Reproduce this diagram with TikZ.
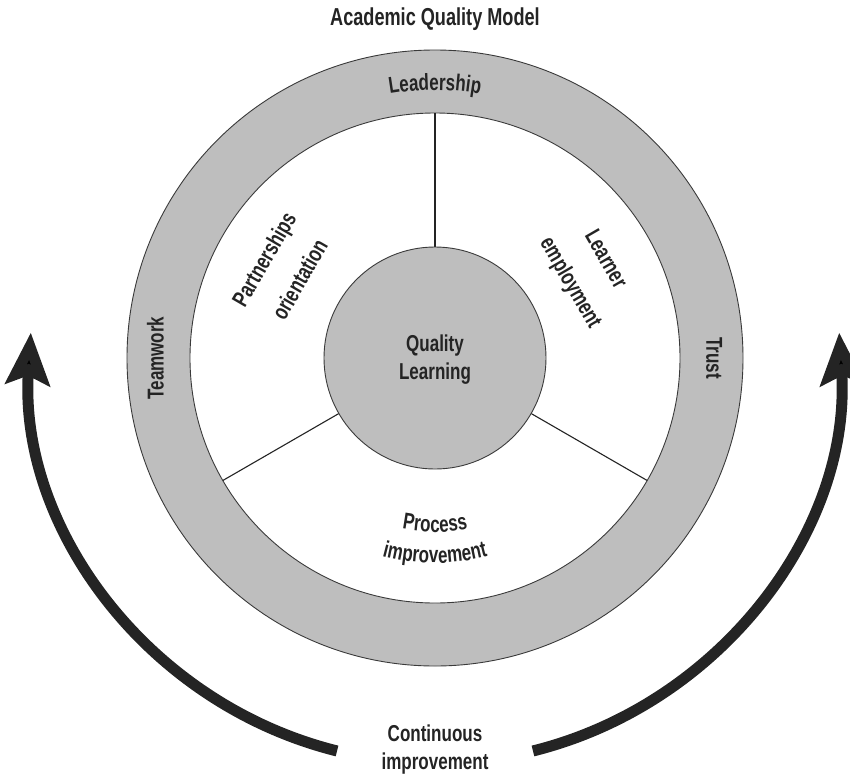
\documentclass[tikz,border=0pt]{standalone}
\usepackage{fontspec}
\setmainfont{Liberation Sans}[FakeStretch=0.74]
\usetikzlibrary{arrows.meta,decorations.text}

\definecolor{ringgray}{HTML}{BEBEBE}
\definecolor{ink}{HTML}{242424}
\newcommand{\lblfont}{\fontsize{23}{28}\selectfont\bfseries}

\tikzset{
  outline/.style={draw=ink!90, line width=0.9pt},
  divider/.style={draw=ink, line width=1.1pt},
  label/.style={font=\lblfont, text=ink, align=center},
  turned/.style={label, anchor=mid, inner sep=0pt, rotate=#1},
  cycle arrow/.style={draw=ink, line width=11pt,
    -{Stealth[length=52pt, width=44pt, inset=9pt]}},
  curved/.style={decorate, decoration={text along path,
    text align=center, text color=ink, text={|\lblfont|#1}}}
}

\begin{document}
\begin{tikzpicture}[x=1pt,y=1pt]
  % page frame: centre of the rings sits at the origin
  \useasboundingbox (-435,-419) rectangle (415,358);

  % outer ring and white sector band
  \fill[ringgray, outline] (0,0) circle[radius=308pt];
  \fill[white, outline] (0,0) circle[radius=245pt];

  % sector dividers from the hub to the ring
  \coordinate (hubA) at (90:111pt);   \coordinate (rimA) at (90:245pt);
  \coordinate (hubB) at (210:111pt);  \coordinate (rimB) at (210:245pt);
  \coordinate (hubC) at (330:111pt);  \coordinate (rimC) at (330:245pt);
  \draw[divider] (hubA) -- (rimA);
  \draw[divider] (hubB) -- (rimB);
  \draw[divider] (hubC) -- (rimC);

  % central hub
  \node[circle, minimum size=222pt, fill=ringgray, outline,
        inner sep=0pt] (hub) at (0,0) {};
  \node[label] (quality) at (0,-2) {Quality\\Learning};

  % title
  \node[label, font=\fontsize{24.5}{29}\selectfont\bfseries] (title) at (0,339) {Academic Quality Model};

  % ring labels
  \path[curved=Leadership] (110:268pt) arc[start angle=110, end angle=70, radius=268pt];
  \node[turned=90] (teamwork) at (180:274pt) {Teamwork};
  \node[turned=-90] (trust) at (0:274pt) {Trust};

  % sector labels
  \node[turned=60] (partner) at (150:192pt) {Partnerships};
  \node[turned=60] (orient) at (150:151pt) {orientation};
  \node[turned=-60] (learner) at (30:193pt) {Learner};
  \node[turned=-60] (employ) at (29:151pt) {employment};
  \path[curved=Process] (245:174pt) arc[start angle=245, end angle=295, radius=174pt];
  \path[curved=improvement] (245:205pt) arc[start angle=245, end angle=295, radius=205pt];

  % continuous improvement cycle
  \coordinate (leftEnd) at (256:405pt);
  \coordinate (rightEnd) at (284:405pt);
  \draw[cycle arrow] (leftEnd) arc[start angle=256, end angle=176.4, radius=405pt];
  \draw[cycle arrow] (rightEnd) arc[start angle=284, end angle=363.6, radius=405pt];
  \node[label] (cont) at (0,-392) {Continuous\\improvement};
\end{tikzpicture}
\end{document}
